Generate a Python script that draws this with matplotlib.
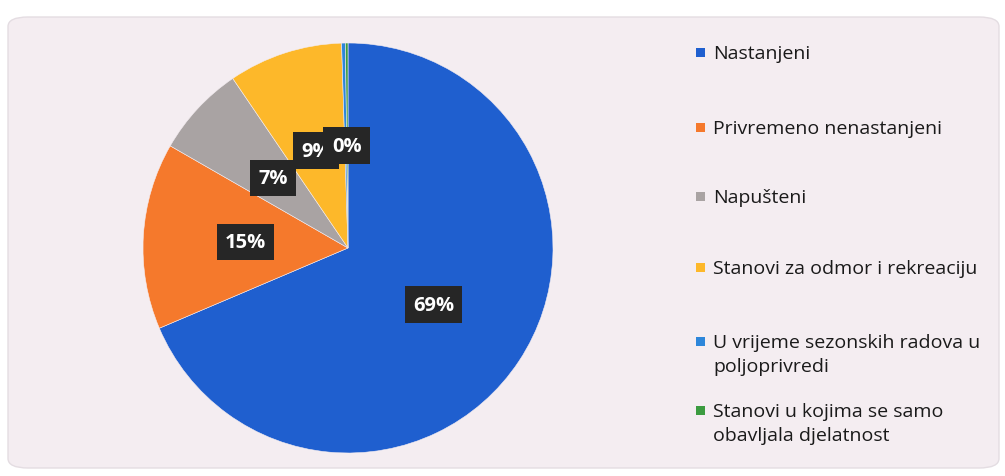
import matplotlib
matplotlib.use("Agg")
import matplotlib.pyplot as plt
import matplotlib.patches as mpatches

# ── Data ──────────────────────────────────────────────────────────────────────
categories = [
    "Nastanjeni",
    "Privremeno nenastanjeni",
    "Napušteni",
    "Stanovi za odmor i rekreaciju",
    "U vrijeme sezonskih radova u\npoljoprivredi",
    "Stanovi u kojima se samo\nobavljala djelatnost",
]
shares = [68.6, 14.7, 7.2, 9.0, 0.3, 0.2]
colors = ["#1f5fcf", "#f5792c", "#a9a3a3", "#fdb82a", "#2d86da", "#3b9b40"]

W, H = 1005, 477
fig = plt.figure(figsize=(W / 100, H / 100), dpi=100)
fig.patch.set_facecolor("white")

# scanned panel background
panel = mpatches.FancyBboxPatch(
    (8 / W, 8 / H), (W - 14) / W, (H - 26) / H,
    boxstyle="round,pad=0,rounding_size=0.02",
    transform=fig.transFigure, facecolor="#f4edf1", edgecolor="#e4dde2",
    linewidth=1.0, zorder=-5,
)
fig.patches.append(panel)

# ── Pie ───────────────────────────────────────────────────────────────────────
cx, cy, r = 348, 249, 205
ax = fig.add_axes([(cx - r) / W, (H - cy - r) / H, 2 * r / W, 2 * r / H])
ax.set_zorder(2)
ax.set_facecolor("none")
wedges, texts, autotexts = ax.pie(
    shares, colors=colors, startangle=90, counterclock=False,
    autopct=lambda p: f"{p:.0f}%", pctdistance=0.5,
    wedgeprops={"linewidth": 0.4, "edgecolor": "#f4edf1"},
    textprops={"color": "white", "fontsize": 14.5, "fontweight": "bold",
               "family": "Open Sans"},
)
for t in autotexts:
    t.set_bbox(dict(boxstyle="square,pad=0.4", facecolor="#262626",
                    edgecolor="none"))
ax.set_xlim(-1, 1)
ax.set_ylim(-1, 1)

# ── Legend ────────────────────────────────────────────────────────────────────
legend_y = [53, 128, 197, 268, 342, 411]
for label, color, y in zip(categories, colors, legend_y):
    fig.patches.append(mpatches.Rectangle(
        (696 / W, (H - y - 5) / H), 9 / W, 9 / H,
        transform=fig.transFigure, facecolor=color, edgecolor="none"))
    fig.text(713 / W, (H - y + 8) / H, label, ha="left", va="top",
             fontsize=14, family="Open Sans", color="#1a1a1a", linespacing=1.45)

fig.savefig("out.png", dpi=100, facecolor=fig.get_facecolor())
